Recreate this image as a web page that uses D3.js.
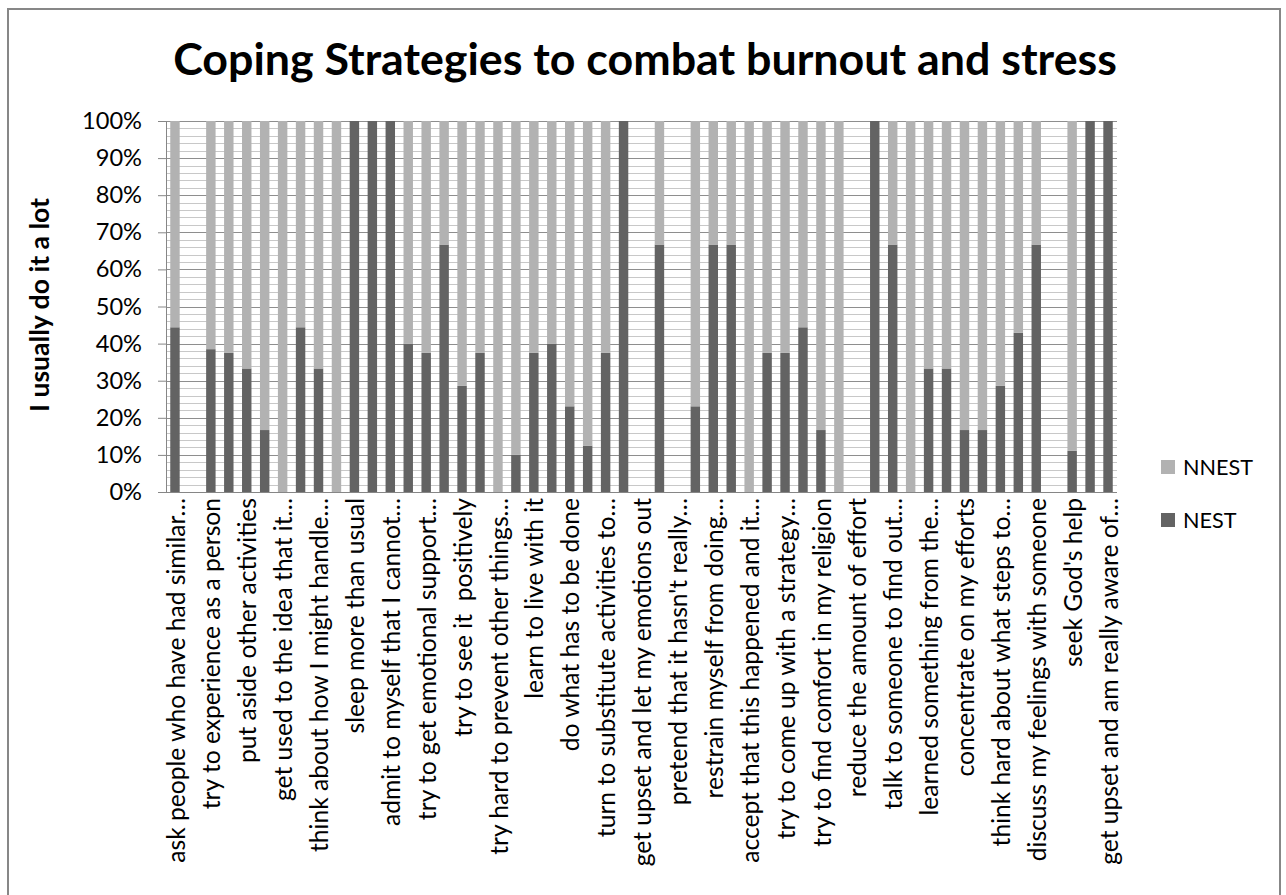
<!DOCTYPE html>
<html>
<head>
<meta charset="utf-8">
<script src="https://cdn.jsdelivr.net/npm/d3@7"></script>
<style>
  html, body { margin: 0; padding: 0; background: #fff; }
  svg { display: block; }
  text { font-family: Lato, "Open Sans", sans-serif; fill: #000; }
</style>
</head>
<body>
<svg id="chart" width="1286" height="895"></svg>
<script>
// Share of respondents answering "I usually do it a lot", per coping item (percent).
// Empty slots (null) are items with no responses in this group.
const nest = [
  44.4, null, 38.5, 37.5, 33.3, 16.7, 0, 44.4, 33.3, 0,
  100, 100, 100, 40, 37.5, 66.7, 28.6, 37.5, 0, 10,
  37.5, 40, 23.1, 12.5, 37.5, 100, null, 66.7, null, 23.1,
  66.7, 66.7, 0, 37.5, 37.5, 44.4, 16.7, 0, null, 100,
  66.7, 0, 33.3, 33.3, 16.7, 16.7, 28.6, 42.9, 66.7, null,
  11.1, 100, 100
];
const nnest = nest.map(v => v == null ? null : +(100 - v).toFixed(1));

// Axis labels shown under every second item
const itemLabels = [
  "ask people who have had similar…",
  "try to experience as a person",
  "put aside other activities",
  "get used to the idea that it…",
  "think about how I might handle…",
  "sleep more than usual",
  "admit to myself that I cannot…",
  "try to get emotional support…",
  "try to see it  positively",
  "try hard to prevent other things…",
  "learn to live with it",
  "do what has to be done",
  "turn to substitute activities to…",
  "get upset and let my emotions out",
  "pretend that it hasn't really…",
  "restrain myself from doing…",
  "accept that this happened and it…",
  "try to come up with a strategy…",
  "try to find comfort in my religion",
  "reduce the amount of effort",
  "talk to someone to find out…",
  "learned something from the…",
  "concentrate on my efforts",
  "think hard about what steps to…",
  "discuss my feelings with someone",
  "seek God's help",
  "get upset and am really aware of…"
];
const seriesNames = ["NEST", "NNEST"];
const seriesColors = ["#636363", "#b2b2b2"];
const yTicks = [0, 0.1, 0.2, 0.3, 0.4, 0.5, 0.6, 0.7, 0.8, 0.9, 1];
const titleText = "Coping Strategies to combat burnout and stress";
const yTitle = "I usually do it a lot";

const svg = d3.select("#chart");
const plot = { left: 166, right: 1117, top: 121, bottom: 492 };

// Outer chart frame
svg.append("rect")
  .attr("x", 8).attr("y", 9).attr("width", 1272).attr("height", 900)
  .attr("fill", "#fff").attr("stroke", "#878787").attr("stroke-width", 2);

function fitWidth(sel, target) {
  const w = sel.node().getComputedTextLength();
  const fs = parseFloat(sel.attr("font-size"));
  sel.attr("font-size", fs * target / w);
  return fs * target / w;
}

const idx = d3.range(nest.length);
const x = d3.scaleBand().domain(idx).range([plot.left, plot.right]).padding(0);
const barW = x.bandwidth() / 1.9;
const y = d3.scaleLinear().domain([0, 1]).range([plot.bottom, plot.top]);

// Gridlines: minor every 2%, major every 10%
const minor = d3.range(0, 101, 2).filter(v => v % 10 !== 0).map(v => v / 100);
svg.append("g").selectAll("line").data(minor).join("line")
  .attr("x1", plot.left).attr("x2", plot.right)
  .attr("y1", d => Math.round(y(d)) + 0.5).attr("y2", d => Math.round(y(d)) + 0.5)
  .attr("stroke", "#c8c8c8").attr("stroke-width", 1);
svg.append("g").selectAll("line").data(yTicks).join("line")
  .attr("x1", plot.left).attr("x2", plot.right)
  .attr("y1", d => Math.round(y(d)) + 0.5).attr("y2", d => Math.round(y(d)) + 0.5)
  .attr("stroke", "#8e8e8e").attr("stroke-width", 1);

// Stacked bars (NEST at the bottom, NNEST on top)
const rows = idx.map(i => ({ i, NEST: (nest[i] || 0) / 100, NNEST: (nnest[i] || 0) / 100 }));
const stacked = d3.stack().keys(seriesNames)(rows);
svg.append("g").selectAll("g").data(stacked).join("g")
  .attr("fill", (d, k) => seriesColors[k])
  .selectAll("rect").data(d => d.filter(p => p[1] > p[0])).join("rect")
  .attr("x", p => x(p.data.i) + (x.bandwidth() - barW) / 2)
  .attr("width", barW)
  .attr("y", p => y(p[1]))
  .attr("height", p => y(p[0]) - y(p[1]));

// Y axis
const yAxis = svg.append("g").attr("transform", `translate(${plot.left},0)`)
  .call(d3.axisLeft(y).tickValues(yTicks).tickFormat(d3.format(".0%")).tickSize(8).tickPadding(16));
yAxis.select(".domain").attr("stroke", "#868686");
yAxis.selectAll(".tick line").attr("stroke", "#868686");
yAxis.selectAll(".tick text").attr("font-family", "Lato, sans-serif").attr("font-size", 22).attr("fill", "#000");
const t100 = yAxis.selectAll(".tick text").filter(d => d === 1);
const ySize = fitWidth(t100, 60);
yAxis.selectAll(".tick text").attr("font-size", ySize);

// X axis baseline
svg.append("line")
  .attr("x1", plot.left).attr("x2", plot.right)
  .attr("y1", plot.bottom + 0.5).attr("y2", plot.bottom + 0.5)
  .attr("stroke", "#868686");

// Category labels, rotated
const xl = svg.append("g").selectAll("text").data(itemLabels).join("text")
  .attr("transform", (d, k) => `translate(${x(k * 2) + x.bandwidth() / 2 + 1},${plot.bottom + 6}) rotate(-90)`)
  .attr("text-anchor", "end")
  .attr("dy", "0.35em")
  .attr("font-size", 22)
  .style("white-space", "pre")
  .text(d => d);
const xSize = fitWidth(xl.filter((d, k) => k === 0), 365);
xl.attr("font-size", xSize);

// Title
const title = svg.append("text")
  .attr("x", 645).attr("y", 75).attr("text-anchor", "middle")
  .attr("font-weight", "bold").attr("font-size", 44)
  .text(titleText);
fitWidth(title, 944);

// Y axis title
const yt = svg.append("text")
  .attr("transform", "translate(49,305) rotate(-90)")
  .attr("text-anchor", "middle")
  .attr("font-weight", "bold").attr("font-size", 20)
  .text(yTitle);
fitWidth(yt, 214);

// Legend
const legendItems = [
  { name: "NNEST", color: seriesColors[1], y: 467 },
  { name: "NEST", color: seriesColors[0], y: 520 }
];
const lg = svg.append("g").selectAll("g").data(legendItems).join("g");
lg.append("rect")
  .attr("x", 1161).attr("y", d => d.y - 7).attr("width", 14).attr("height", 14)
  .attr("fill", d => d.color);
const lt = lg.append("text")
  .attr("x", 1183).attr("y", d => d.y).attr("dy", "0.35em")
  .attr("font-size", 22).text(d => d.name);
const lSize = fitWidth(lt.filter(d => d.name === "NNEST"), 70);
lt.attr("font-size", lSize);
</script>
</body>
</html>
